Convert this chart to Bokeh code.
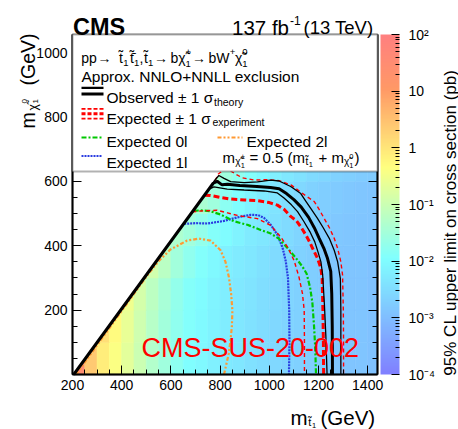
import math
from bokeh.plotting import figure
from bokeh.models import (ColumnDataSource, LogColorMapper, ColorBar, FixedTicker,
                          LinearAxis, SingleIntervalTicker, Label, BoxAnnotation, Arrow)
from bokeh.embed import file_html
from bokeh.resources import INLINE

FONT = "Liberation Sans"

# ---------------- data ----------------
mstop_centers = [225, 275, 325, 375, 425, 475, 525, 575, 625, 675, 725, 775, 825,
                 875, 925, 975, 1025, 1075, 1125, 1175, 1225, 1275, 1325, 1375, 1425]
mlsp_centers = [50, 150, 250, 350, 450, 550, 650]
N = None
limit_0_100 = [30, 2.5, 0.8, 0.4, 0.2, 0.1, 0.05, 0.028, 0.017, 0.011, 0.0085, 0.0068, 0.0055,
               0.0045, 0.0037, 0.0031, 0.0027, 0.0023, 0.002, 0.0018, 0.0016, 0.0014, 0.0013, 0.0013, 0.0012]
limit_100_200 = [N, N, 1.2, 0.5, 0.24, 0.11, 0.055, 0.03, 0.018, 0.012, 0.009, 0.007, 0.0057,
                 0.0046, 0.0038, 0.0031, 0.0027, 0.0023, 0.002, 0.0018, 0.0016, 0.0014, 0.0013, 0.0013, 0.0012]
limit_200_300 = [N, N, N, 0.6, 0.3, 0.13, 0.065, 0.035, 0.02, 0.013, 0.0095, 0.0075, 0.006,
                 0.0049, 0.004, 0.0033, 0.0028, 0.0024, 0.002, 0.0018, 0.0016, 0.0014, 0.0013, 0.0013, 0.0012]
limit_300_400 = [N, N, N, N, N, 0.2, 0.12, 0.06, 0.03, 0.018, 0.012, 0.0085, 0.0068,
                 0.0055, 0.0045, 0.0037, 0.003, 0.0025, 0.0021, 0.0018, 0.0016, 0.0014, 0.0013, 0.0013, 0.0012]
limit_400_500 = [N, N, N, N, N, N, N, 0.06, 0.045, 0.03, 0.02, 0.013, 0.0095,
                 0.0072, 0.0055, 0.0045, 0.0036, 0.0029, 0.0024, 0.002, 0.0017, 0.0015, 0.0014, 0.0013, 0.0013]
limit_500_600 = [N, N, N, N, N, N, N, N, N, 0.06, 0.04, 0.028, 0.016,
                 0.011, 0.0075, 0.0055, 0.0042, 0.0033, 0.0026, 0.0021, 0.0018, 0.0016, 0.0015, 0.0014, 0.0013]
limit_600_700 = [N, N, N, N, N, N, N, N, N, N, N, 0.045, 0.028,
                 0.018, 0.012, 0.0085, 0.0062, 0.0048, 0.0038, 0.003, 0.0025, 0.0021, 0.0019, 0.0017, 0.0016]
limit_rows = [limit_0_100, limit_100_200, limit_200_300, limit_300_400,
              limit_400_500, limit_500_600, limit_600_700]

diag_x = [205, 772, 810]
diag_y = [0, 594, 633]

obs_x = [205, 772, 788, 808, 830, 880, 950, 1005, 1040, 1070, 1100, 1130, 1160, 1183, 1203, 1222, 1237, 1250, 1254, 1256, 1257]
obs_y = [0, 594, 600, 589, 591, 587, 584, 581, 577, 562, 543, 520, 488, 456, 423, 392, 360, 320, 250, 150, 0]
obs_up_x = [766, 776, 795, 816, 843, 898, 952, 1006, 1040, 1087, 1128, 1149, 1172, 1196, 1220, 1244, 1264, 1278, 1289, 1291, 1291, 1291]
obs_up_y = [588, 601, 618, 609, 599, 596, 598, 604, 601, 584, 562, 538, 512, 485, 455, 423, 386, 350, 298, 200, 100, 0]
obs_dn_x = [755, 775, 829, 898, 979, 1033, 1060, 1090, 1115, 1140, 1165, 1185, 1198, 1210, 1217, 1224, 1230, 1235]
obs_dn_y = [576, 583, 576, 573, 570, 564, 548, 527, 506, 476, 444, 412, 381, 350, 309, 220, 120, 0]

exp_x = [737, 761, 800, 843, 900, 952, 1000, 1033, 1060, 1087, 1110, 1128, 1149, 1165, 1176, 1196, 1210, 1215, 1218, 1220, 1221]
exp_y = [557, 556, 550, 545, 542, 540, 534, 526, 513, 491, 478, 459, 433, 410, 392, 361, 330, 298, 200, 100, 0]
exp_up_x = [780, 792, 812, 840, 860, 890, 940, 990, 1040, 1090, 1130, 1183, 1205, 1223, 1245, 1264, 1278, 1291, 1298, 1301, 1302, 1302]
exp_up_y = [602, 622, 634, 634, 624, 611, 604, 605, 602, 588, 565, 537, 510, 485, 455, 423, 392, 350, 309, 200, 100, 0]
exp_dn_x = [687, 720, 788, 830, 870, 952, 1006, 1047, 1074, 1101, 1121, 1135, 1142, 1143, 1143]
exp_dn_y = [505, 508, 510, 502, 494, 484, 463, 427, 396, 354, 302, 251, 199, 100, 0]

exp0l_x = [693, 721, 761, 802, 856, 911, 965, 1006, 1040, 1075, 1108, 1135, 1152, 1166, 1175, 1182, 1187, 1190]
exp0l_y = [508, 510, 507, 497, 476, 465, 449, 438, 421, 392, 362, 335, 313, 270, 225, 150, 80, 0]
exp1l_x = [654, 700, 750, 816, 870, 924, 955, 979, 1006, 1033, 1054, 1067, 1076, 1081, 1082, 1080]
exp1l_y = [468, 470, 469, 477, 488, 496, 495, 486, 465, 434, 394, 352, 300, 200, 100, 0]
exp2l_x = [214, 508, 550, 598, 666, 714, 761, 802, 822, 836, 845, 850, 848, 843, 835, 816]
exp2l_y = [0, 312, 352, 388, 416, 422, 416, 386, 350, 302, 250, 199, 150, 110, 64, 0]

cbar_ticks = [1e-4, 1e-3, 1e-2, 1e-1, 1, 10, 100]
cbar_labels = ["10\u207b\u2074", "10\u207b\u00b3", "10\u207b\u00b2", "10\u207b\u00b9", "1", "10", "10\u00b2"]

# ---------------- palette (ROOT SUSY style) ----------------
def build_palette(n=255):
    stops = [0.0, 0.34, 0.61, 0.84, 1.0]
    red = [0.5, 0.5, 1.0, 1.0, 1.0]
    green = [0.5, 1.0, 1.0, 0.6, 0.5]
    blue = [1.0, 1.0, 0.5, 0.4, 0.5]
    pal = []
    for i in range(n):
        t = i / (n - 1)
        k = 0
        while k < 3 and t > stops[k + 1]:
            k += 1
        f = (t - stops[k]) / (stops[k + 1] - stops[k])
        r = red[k] + (red[k + 1] - red[k]) * f
        g = green[k] + (green[k + 1] - green[k]) * f
        b = blue[k] + (blue[k + 1] - blue[k]) * f
        pal.append("#%02x%02x%02x" % (round(r * 255), round(g * 255), round(b * 255)))
    return pal

mapper = LogColorMapper(palette=build_palette(), low=1e-4, high=1e2)

# ---------------- geometry: the Bokeh frame is the whole canvas ----------------
W, H = 458, 429
X0, X1, Y0, Y1 = 200, 1440, 0, 1056      # plot region (data)
FL, FR, FT, FB = 72, 377, 34, 374        # plot region (pixels)

def dx(px):
    return X0 + (px - FL) * (X1 - X0) / (FR - FL)

def dy(py):
    return Y0 + (FB - py) * (Y1 - Y0) / (FB - FT)

p = figure(width=W, height=H, x_range=(dx(0), dx(W)), y_range=(dy(H), dy(0)),
           output_backend="svg", toolbar_location=None, title=None,
           min_border_left=0, min_border_right=0, min_border_top=0, min_border_bottom=0)
p.background_fill_color = "white"
p.border_fill_color = "white"
p.outline_line_color = None
p.grid.visible = False

def style_axis(ax, fixed, bounds, labels=True):
    ax.fixed_location = fixed
    ax.bounds = bounds
    ax.ticker = SingleIntervalTicker(interval=200, num_minor_ticks=4)
    ax.major_tick_in = 9
    ax.major_tick_out = 0
    ax.minor_tick_in = 5
    ax.minor_tick_out = 0
    ax.major_tick_line_color = "black"
    ax.minor_tick_line_color = "black"
    ax.axis_line_color = "black"
    ax.axis_line_width = 2
    ax.major_label_text_font = FONT
    ax.major_label_text_color = "black"
    ax.major_label_text_font_size = "14px"
    ax.major_label_standoff = 5
    if not labels:
        ax.major_label_text_color = None

style_axis(p.xaxis[0], Y0, (X0, X1))
style_axis(p.yaxis[0], X0, (Y0, Y1))
p.yaxis[0].major_label_overrides = {0: ""}

right_axis = LinearAxis()
style_axis(right_axis, X1, (Y0, Y1), labels=False)
p.add_layout(right_axis, "right")

# heatmap cells (clipped to the plot region)
hl, hr, hb, ht, hv = [], [], [], [], []
for yc, row in zip(mlsp_centers, limit_rows):
    for xc, v in zip(mstop_centers, row):
        if v is not None:
            hl.append(max(xc - 25, X0))
            hr.append(min(xc + 25, X1))
            hb.append(yc - 50)
            ht.append(yc + 50)
            hv.append(v)
src = ColumnDataSource(dict(left=hl, right=hr, bottom=hb, top=ht, v=hv))
p.quad(left="left", right="right", bottom="bottom", top="top", source=src,
       fill_color={"field": "v", "transform": mapper},
       line_color={"field": "v", "transform": mapper}, line_width=0.6)

# white region above the kinematic diagonal
mask_x = [X0] + diag_x + [diag_x[-1], X0]
mask_y = [Y0] + diag_y + [Y1, Y1]
p.patch(mask_x, mask_y, fill_color="white", line_color=None)

RED = "#ff0000"
GREEN = "#00c800"
BLUE = "#2a3ce0"
ORANGE = "#ff9933"

p.line(exp2l_x, exp2l_y, line_color=ORANGE, line_width=2.2, line_dash="4 2 2 2 2 2")
p.line(exp1l_x, exp1l_y, line_color=BLUE, line_width=2.2, line_dash="2 1")
p.line(exp0l_x, exp0l_y, line_color=GREEN, line_width=2.2, line_dash="5 2 2 2")
p.line(exp_up_x, exp_up_y, line_color=RED, line_width=1.4, line_dash="4 3")
p.line(exp_dn_x, exp_dn_y, line_color=RED, line_width=1.4, line_dash="4 3")
p.line(exp_x, exp_y, line_color=RED, line_width=3, line_dash="6 3")
p.line(obs_up_x, obs_up_y, line_color="black", line_width=1.3)
p.line(obs_dn_x, obs_dn_y, line_color="black", line_width=1.3)
p.line(obs_x, obs_y, line_color="black", line_width=3)

# frame border of the plot region
p.add_layout(BoxAnnotation(left=X0, right=X1, bottom=Y0, top=Y1,
                           fill_color=None, line_color="black", line_width=2))

# colour bar (inside the canvas-wide frame)
minor = [m * 10.0 ** e for e in range(-4, 2) for m in range(2, 10)]
cb = ColorBar(color_mapper=mapper,
              ticker=FixedTicker(ticks=cbar_ticks, minor_ticks=minor),
              major_label_overrides=dict(zip(cbar_ticks, cbar_labels)),
              width=19, height=FB - FT, padding=0, margin=0, label_standoff=9,
              location=(380, H - FB),
              major_tick_in=8, major_tick_out=0, minor_tick_in=4, minor_tick_out=0,
              major_tick_line_color="black", minor_tick_line_color="black",
              bar_line_color=None, border_line_color=None, background_fill_alpha=0,
              major_label_text_font=FONT, major_label_text_font_size="14px",
              major_label_text_color="black")
p.add_layout(cb)

# legend box
p.add_layout(BoxAnnotation(left=X0, right=X1, bottom=dy(171), top=Y1,
                           fill_color="white", fill_alpha=1.0,
                           line_color="black", line_width=2))

def seg(x0, x1, y, color, width, dash="solid"):
    p.add_layout(Arrow(end=None, x_start=dx(x0), y_start=dy(y), x_end=dx(x1), y_end=dy(y),
                       line_color=color, line_width=width, line_dash=dash))

seg(81, 103, 87.3, "black", 2.2)
seg(81, 103, 93.6, "black", 3)
seg(81, 103, 108.3, RED, 1.8, "4 2")
seg(81, 103, 113.3, RED, 3, "4 2")
seg(81, 103, 118.2, RED, 1.8, "4 2")
seg(81, 102, 137, GREEN, 2, "5 2 2 2")
seg(217, 242, 137, ORANGE, 2, "4 2 2 2 2 2")
seg(81, 102, 155.5, BLUE, 2, "2 1")

def lab(px, py, text, size, color="black", bold=False, align="left", angle=0.0):
    l = Label(x=dx(px), y=dy(py), text=text, text_font=FONT, text_font_size="%gpx" % size,
              text_color=color, text_align=align, text_baseline="alphabetic", angle=angle)
    if bold:
        l.text_font_style = "bold"
    p.add_layout(l)

# header
lab(72.5, 26.7, "CMS", 23.5, bold=True)
lab(231.5, 26.7, "137 fb", 20.5)
lab(289.5, 20, "-1", 12)
lab(303, 26.7, "(13 TeV)", 18.5)

# legend line 1 (process)
M1, S1 = 14, 9.5
B1, SUB1, SUP1 = 57.5, 62, 51.5
line1 = [
    (80.7, B1, "pp", M1), (97, B1, "\u2192", M1), (118.5, B1, "t\u0303", M1), (122.8, SUB1, "1", S1),
    (129.5, B1, "t\u0303\u0304", M1), (133.6, SUB1, "1", S1), (139, B1, ",", M1),
    (143.5, B1, "t\u0303", M1), (147.6, SUB1, "1", S1), (153.5, B1, "\u2192", M1),
    (170, B1, "b\u03c7\u0303", M1), (185, SUP1, "+", S1), (185, SUB1 + 1, "1", S1),
    (191.5, B1, "\u2192", M1), (208, B1, "bW", M1), (229.2, SUP1, "+", S1),
    (234.5, B1, "\u03c7\u0303", M1), (241.7, SUP1, "0", S1), (241.7, SUB1 + 1, "1", S1),
]
for px, py, t, s in line1:
    lab(px, py, t, s)

lab(81, 76, "Approx. NNLO+NNLL exclusion", 15.5)
lab(106, 97, "Observed \u00b1 1 \u03c3", 15.5)
lab(213.5, 101, "theory", 10.5)
lab(106, 117.5, "Expected \u00b1 1 \u03c3", 15.5)
lab(212, 121.5, "experiment", 10.5)
lab(106, 141, "Expected 0l", 15.5)
lab(246, 141, "Expected 2l", 15.5)
lab(106, 162, "Expected 1l", 15.5)

# mass relation
lab(222, 156.7, "m", 15)
lab(234.8, 160.5, "\u03c7\u0303", 10)
lab(240.2, 155.5, "\u00b1", 7.5)
lab(240.2, 165, "1", 7.5)
lab(249, 156.7, "= 0.5 (m", 15)
lab(305, 160.5, "t\u0303", 10)
lab(308.3, 164, "1", 7.5)
lab(318, 156.7, "+ m", 15)
lab(343.5, 160.5, "\u03c7\u0303", 10)
lab(348.8, 155.5, "0", 7.5)
lab(348.8, 165, "1", 7.5)
lab(354, 156.7, ")", 15)

# watermark
lab(141, 347.5, "CMS-SUS-20-002", 27, color=RED)

# x axis title
lab(290, 417, "m", 20.5)
lab(307.8, 421.5, "t\u0303", 11)
lab(311.6, 424.5, "1", 7.5)
lab(320, 417, "(GeV)", 20.5)

# y axis title (rotated, reading upwards)
A = math.pi / 2
lab(27, 128, "m", 19.5, angle=A)
lab(32, 110, "\u03c7\u0303", 12, angle=A)
lab(24, 103, "0", 8, angle=A)
lab(35, 103, "1", 8, angle=A)
lab(27, 85, "(GeV)", 19.5, angle=A)

# colour bar title (anchored at its upper end, reading upwards)
lab(450, 69, "95% CL upper limit on cross section (pb)", 17, align="right", angle=A)

open("out.html", "w").write(file_html(p, INLINE))
